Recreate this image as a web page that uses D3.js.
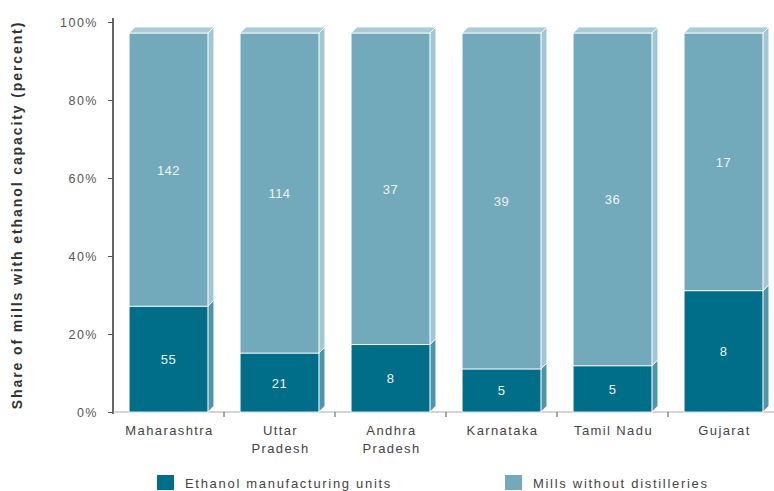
<!DOCTYPE html>
<html>
<head>
<meta charset="utf-8">
<script src="https://cdn.jsdelivr.net/npm/d3@7"></script>
<style>
  body { margin: 0; background: #fff; }
  text { font-family: "Liberation Sans", Arial, sans-serif; }
</style>
</head>
<body>
<svg id="chart" width="774" height="491"></svg>
<script>
// data
var states = [["Maharashtra"], ["Uttar", "Pradesh"], ["Andhra", "Pradesh"], ["Karnataka"], ["Tamil Nadu"], ["Gujarat"]];
var ethanolUnits = [55, 21, 8, 5, 5, 8];
var millsWithout = [142, 114, 37, 39, 36, 17];
var yTicks = [0, 20, 40, 60, 80, 100];
var seriesNames = ["Ethanol manufacturing units", "Mills without distilleries"];

var darkFront = "#006e88", darkSide = "#4e95aa";
var lightFront = "#72a9bb", lightSide = "#a2c7d4", lightTop = "#a9ccd8";

var svg = d3.select("#chart");
var plotLeft = 113, plotBottom = 412, plotTop = 22;
var depth = 6;

var x = d3.scaleBand()
  .domain(d3.range(states.length))
  .range([plotLeft, plotLeft + 666])
  .paddingInner(0.29)
  .paddingOuter(0.145);

var y = d3.scaleLinear().domain([0, 100]).range([plotBottom, plotTop]);
// front faces of the 3d bars stop a little under the 100% line
var yBar = d3.scaleLinear().domain([0, 1]).range([plotBottom, 33]);

// y axis
var yAxis = d3.axisLeft(y)
  .tickValues(yTicks)
  .tickFormat(function(d) { return d + "%"; })
  .tickSize(5)
  .tickPadding(10);
var ya = svg.append("g").attr("transform", "translate(" + plotLeft + ",0)").call(yAxis);
ya.select(".domain").attr("stroke", "#333").attr("stroke-width", 1.5).attr("d", "M0," + (plotTop - 4) + "V" + (plotBottom + 2));
ya.selectAll(".tick line").attr("stroke", "#555");
ya.selectAll(".tick text").attr("fill", "#555").style("font-size", "12.5px").style("letter-spacing", "1.5px");

// baseline and category separators
svg.append("line")
  .attr("x1", plotLeft).attr("x2", 774)
  .attr("y1", plotBottom).attr("y2", plotBottom)
  .attr("stroke", "#aaa");
svg.selectAll(".sep")
  .data(d3.range(1, states.length))
  .enter().append("line")
  .attr("x1", function(i) { return x(i) - x.step() * x.paddingInner() / 2; })
  .attr("x2", function(i) { return x(i) - x.step() * x.paddingInner() / 2; })
  .attr("y1", plotBottom).attr("y2", plotBottom + 5)
  .attr("stroke", "#555");

// bars
var stacks = states.map(function(s, i) {
  var total = ethanolUnits[i] + millsWithout[i];
  var f = ethanolUnits[i] / total;
  return [
    { i: i, y0: 0, y1: f, value: ethanolUnits[i], front: darkFront, side: darkSide },
    { i: i, y0: f, y1: 1, value: millsWithout[i], front: lightFront, side: lightSide }
  ];
});

var bw = x.bandwidth();
stacks.forEach(function(segs) {
  var g = svg.append("g");
  segs.forEach(function(d) {
    var x0 = x(d.i), yt = yBar(d.y1), yb = yBar(d.y0);
    // side face
    g.append("path")
      .attr("d", "M" + (x0 + bw) + "," + yb + "L" + (x0 + bw + depth) + "," + (yb - depth) +
        "L" + (x0 + bw + depth) + "," + (yt - depth) + "L" + (x0 + bw) + "," + yt + "Z")
      .attr("fill", d.side).attr("stroke", "#fff").attr("stroke-width", 0.8);
    // front face
    g.append("rect")
      .attr("x", x0).attr("y", yt)
      .attr("width", bw).attr("height", yb - yt)
      .attr("fill", d.front).attr("stroke", "#fff").attr("stroke-width", 0.8);
    g.append("text")
      .attr("x", x0 + bw / 2)
      .attr("y", (yt + yb) / 2 + 5)
      .attr("text-anchor", "middle")
      .attr("fill", "#eef4f6")
      .style("font-size", "13px")
      .style("letter-spacing", "0.5px")
      .text(d.value);
  });
  // top face
  var t = segs[1], x0 = x(t.i), yt = yBar(1);
  g.append("path")
    .attr("d", "M" + x0 + "," + yt + "L" + (x0 + depth) + "," + (yt - depth) +
      "L" + (x0 + bw + depth) + "," + (yt - depth) + "L" + (x0 + bw) + "," + yt + "Z")
    .attr("fill", lightTop).attr("stroke", "#fff").attr("stroke-width", 0.8);
});

// category labels
svg.selectAll(".cat")
  .data(states)
  .enter().append("text")
  .attr("text-anchor", "middle")
  .attr("fill", "#444")
  .style("font-size", "13px")
  .style("letter-spacing", "1.4px")
  .attr("transform", function(d, i) { return "translate(" + (x(i) + bw / 2 + 1) + "," + 435 + ")"; })
  .selectAll("tspan")
  .data(function(d) { return d; })
  .enter().append("tspan")
  .attr("x", 0)
  .attr("dy", function(d, j) { return j ? 18 : 0; })
  .text(function(d) { return d; });

// y title
svg.append("text")
  .attr("transform", "translate(22," + 215 + ") rotate(-90)")
  .attr("text-anchor", "middle")
  .attr("fill", "#333")
  .style("font-size", "14px")
  .style("font-weight", "bold")
  .style("letter-spacing", "1.9px")
  .text("Share of mills with ethanol capacity (percent)");

// legend
var legendX = [157, 505];
var leg = svg.selectAll(".leg")
  .data(seriesNames)
  .enter().append("g")
  .attr("transform", function(d, i) { return "translate(" + legendX[i] + ",475)"; });
leg.append("rect")
  .attr("width", 17).attr("height", 15)
  .attr("fill", function(d, i) { return i ? lightFront : darkFront; });
leg.append("text")
  .attr("x", 28).attr("y", 13)
  .attr("fill", "#444")
  .style("font-size", "13px")
  .style("letter-spacing", "1.7px")
  .text(function(d) { return d; });
</script>
</body>
</html>
